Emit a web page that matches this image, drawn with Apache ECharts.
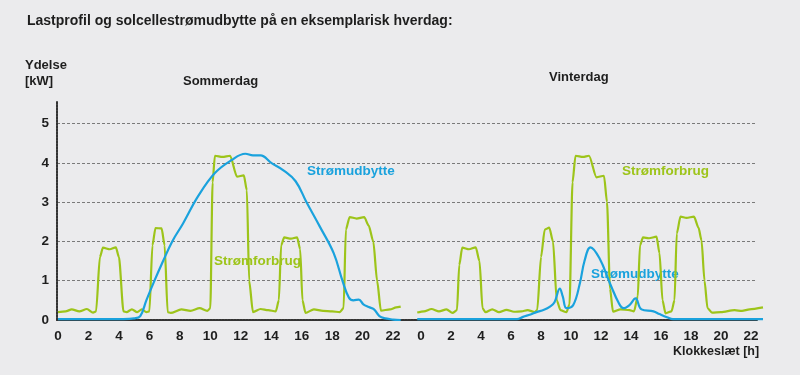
<!DOCTYPE html>
<html>
<head>
<meta charset="utf-8">
<script src="https://cdn.jsdelivr.net/npm/echarts@6/dist/echarts.min.js"></script>
<style>
  html, body { margin: 0; padding: 0; background: #ebebed; }
  #chart { width: 800px; height: 375px; }
</style>
</head>
<body>
<div id="chart"></div>
<script>
// tick labels
var hourTicks = [0, 2, 4, 6, 8, 10, 12, 14, 16, 18, 20, 22];
var kwTicks = [0, 1, 2, 3, 4, 5];

// Sommerdag: [time h, kW]
var summerLoad = [
  [0, 0.2], [0.5, 0.22], [0.9, 0.27], [1.4, 0.22], [1.9, 0.28], [2.3, 0.19], [2.5, 0.22],
  [2.75, 1.6], [2.95, 1.84], [3.4, 1.8], [3.8, 1.85], [4.0, 1.6], [4.3, 0.22], [4.5, 0.2],
  [4.85, 0.27], [5.2, 0.2], [5.5, 0.27], [5.8, 0.2], [6.0, 0.22], [6.2, 1.9], [6.4, 2.34],
  [6.8, 2.33], [7.0, 1.9], [7.2, 0.2], [7.4, 0.18], [8.1, 0.27], [8.7, 0.23], [9.3, 0.3],
  [9.8, 0.23], [10.0, 0.3], [10.15, 3.5], [10.3, 4.18], [10.8, 4.15], [11.3, 4.18],
  [11.75, 3.65], [12.2, 3.68], [12.4, 3.3], [12.55, 1.0], [12.8, 0.2], [13.3, 0.28],
  [13.8, 0.25], [14.3, 0.22], [14.5, 0.5], [14.65, 1.9], [14.85, 2.1], [15.3, 2.07],
  [15.7, 2.1], [15.9, 1.8], [16.05, 0.5], [16.25, 0.18], [16.8, 0.27], [17.4, 0.23],
  [18.0, 0.22], [18.5, 0.2], [18.75, 0.3], [18.9, 2.3], [19.15, 2.62], [19.6, 2.58],
  [20.1, 2.62], [20.4, 2.4], [20.7, 2.0], [20.95, 1.0], [21.2, 0.24], [21.8, 0.27],
  [22.2, 0.32], [22.5, 0.34]
];
var summerSolar = [
  [0, 0.02], [4.3, 0.02], [5.0, 0.04], [5.4, 0.1], [5.8, 0.5], [6.3, 0.97],
  [6.9, 1.5], [7.5, 2.0], [8.2, 2.45], [9.2, 3.15], [10.3, 3.74], [11.4, 4.07],
  [12.3, 4.23], [12.8, 4.19], [13.3, 4.19], [14.0, 4.0], [14.8, 3.81], [15.6, 3.53],
  [16.3, 3.01], [17.2, 2.37], [18.1, 1.7], [18.7, 0.97], [19.1, 0.57], [19.4, 0.5],
  [19.75, 0.52], [20.05, 0.4], [20.4, 0.33], [20.75, 0.27], [21.1, 0.1], [21.5, 0.04],
  [22.0, 0.01], [22.5, 0.0]
];

// Vinterdag: [time h, kW]
var winterLoad = [
  [-0.25, 0.19], [0.2, 0.22], [0.7, 0.28], [1.2, 0.22], [1.7, 0.27], [2.1, 0.18],
  [2.4, 0.25], [2.55, 1.4], [2.75, 1.84], [3.2, 1.8], [3.65, 1.85], [3.9, 1.5], [4.1, 0.3],
  [4.3, 0.2], [4.75, 0.27], [5.2, 0.2], [5.7, 0.26], [6.2, 0.21], [6.7, 0.22], [7.1, 0.25],
  [7.6, 0.2], [7.75, 0.26], [8.0, 1.6], [8.25, 2.3], [8.55, 2.35], [8.8, 2.0], [9.05, 0.5],
  [9.3, 0.25], [9.7, 0.2], [9.9, 0.4], [10.1, 3.5], [10.3, 4.18], [10.8, 4.15],
  [11.2, 4.18], [11.7, 3.63], [12.2, 3.67], [12.4, 3.0], [12.6, 0.8], [12.8, 0.21],
  [13.3, 0.27], [13.9, 0.25], [14.2, 0.22], [14.45, 0.6], [14.6, 1.9], [14.8, 2.1],
  [15.2, 2.08], [15.7, 2.12], [15.9, 1.7], [16.1, 0.5], [16.3, 0.17], [16.7, 0.22],
  [16.9, 0.5], [17.05, 2.2], [17.3, 2.63], [17.7, 2.6], [18.2, 2.63], [18.5, 2.35],
  [18.7, 2.03], [18.9, 1.0], [19.1, 0.3], [19.4, 0.19], [20.0, 0.2], [20.9, 0.25],
  [21.4, 0.23], [21.9, 0.27], [22.8, 0.32]
];
var winterSolar = [
  [-0.25, 0.02], [6.4, 0.02], [6.8, 0.08], [7.3, 0.14], [7.7, 0.2], [8.2, 0.26],
  [8.6, 0.34], [8.9, 0.45], [9.25, 0.8], [9.45, 0.6], [9.7, 0.3], [10.15, 0.38],
  [10.6, 0.95], [10.9, 1.5], [11.3, 1.85], [11.9, 1.57], [12.6, 0.93], [13.2, 0.42],
  [13.5, 0.3], [13.9, 0.38], [14.3, 0.55], [14.7, 0.27], [15.5, 0.22], [15.9, 0.15],
  [16.4, 0.07], [16.8, 0.02], [22.8, 0.02]
];

var BLUE = '#1aa2dd';
var GREEN = '#9dc41a';
var INK = '#1e1e1e';
var FONT = '"Liberation Sans", Arial, sans-serif';

var chart = echarts.init(document.getElementById('chart'));

function txt(x, y, s, color, size) {
  return {
    type: 'text', left: x, top: y,
    style: { text: s, fill: color, font: 'bold ' + size + 'px ' + FONT }
  };
}

function hourAxis(idx, min, max) {
  return {
    type: 'value', gridIndex: idx, min: min, max: max,
    axisLine: { show: false },
    axisTick: { show: false, customValues: hourTicks },
    splitLine: { show: false },
    axisLabel: {
      customValues: hourTicks, margin: 9,
      color: INK, fontWeight: 'bold', fontSize: 13.5, fontFamily: FONT
    }
  };
}

function hiddenAxis(idx, min, max) {
  return { type: 'value', gridIndex: idx, min: min, max: max, show: false };
}

function curve(idx, data, color, smooth) {
  return {
    type: 'line', xAxisIndex: idx, yAxisIndex: idx, data: data,
    smooth: smooth, smoothMonotone: color === GREEN ? 'x' : null, symbol: 'none',
    lineStyle: { color: color, width: 2.2 }, z: color === BLUE ? 3 : 2
  };
}

var option = {
  backgroundColor: '#ebebed',
  animation: false,
  grid: [
    // background: gridlines + baseline
    { left: 57, right: 43, top: 123.5, bottom: 55 },
    // left axis line, reaching above 5
    { left: 57, width: 1, top: 101, bottom: 55 },
    // Sommerdag
    { left: 58, width: 342.7, top: 123.5, bottom: 55 },
    // Vinterdag
    { left: 416.5, width: 348, top: 123.5, bottom: 55 }
  ],
  xAxis: [
    {
      type: 'value', gridIndex: 0, min: 0, max: 1,
      axisLine: { show: true, lineStyle: { color: '#333', width: 2, type: [2, 1] } },
      axisTick: { show: false }, axisLabel: { show: false }, splitLine: { show: false }
    },
    hiddenAxis(1, 0, 1),
    hourAxis(2, 0, 22.5),
    hourAxis(3, -0.3, 22.9)
  ],
  yAxis: [
    {
      type: 'value', gridIndex: 0, min: 0, max: 5, interval: 1,
      axisLine: { show: false }, axisTick: { show: false },
      axisLabel: { margin: 8, color: INK, fontWeight: 'bold', fontSize: 13.5, fontFamily: FONT },
      splitLine: { lineStyle: { color: '#7a7a7a', width: 1, type: [3, 2] } }
    },
    {
      type: 'value', gridIndex: 1, min: 0, max: 1,
      axisLine: { show: true, lineStyle: { color: '#333', width: 2, type: [2, 1] } },
      axisTick: { show: false }, axisLabel: { show: false }, splitLine: { show: false }
    },
    hiddenAxis(2, 0, 5),
    hiddenAxis(3, 0, 5)
  ],
  graphic: [
    txt(27, 14, 'Lastprofil og solcellestrømudbytte på en eksemplarisk hverdag:', INK, 14),
    txt(25, 59, 'Ydelse', INK, 13),
    txt(25, 75, '[kW]', INK, 13),
    txt(183, 75, 'Sommerdag', INK, 13),
    txt(549, 71, 'Vinterdag', INK, 13),
    txt(673, 345, 'Klokkeslæt [h]', INK, 12.5),
    txt(307, 164, 'Strømudbytte', BLUE, 13.5),
    txt(214, 254, 'Strømforbrug', GREEN, 13.5),
    txt(622, 164, 'Strømforbrug', GREEN, 13.5),
    txt(591, 267, 'Strømudbytte', BLUE, 13.5)
  ],
  series: [
    curve(2, summerLoad, GREEN, 0.25),
    curve(2, summerSolar, BLUE, 0.4),
    curve(3, winterLoad, GREEN, 0.25),
    curve(3, winterSolar, BLUE, 0.4)
  ]
};

chart.setOption(option);
</script>
</body>
</html>
